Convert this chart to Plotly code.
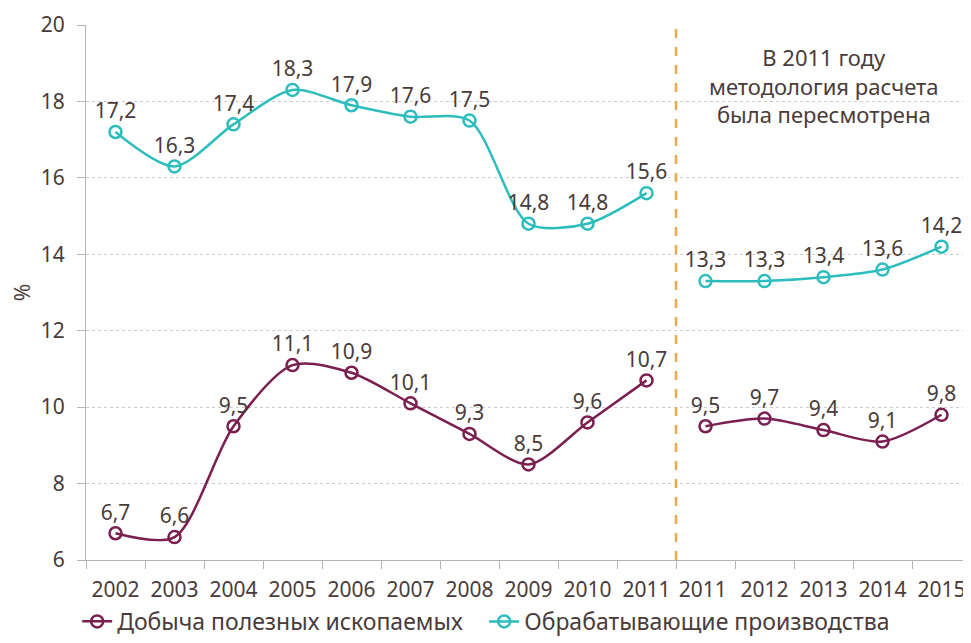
import plotly.graph_objects as go

# categories (second "2011" gets a trailing space so the category axis keeps both)
years = ["2002", "2003", "2004", "2005", "2006", "2007", "2008", "2009", "2010", "2011",
         "2011 ", "2012", "2013", "2014", "2015"]

mining_old = [6.7, 6.6, 9.5, 11.1, 10.9, 10.1, 9.3, 8.5, 9.6, 10.7]
mining_new = [9.5, 9.7, 9.4, 9.1, 9.8]
manuf_old = [17.2, 16.3, 17.4, 18.3, 17.9, 17.6, 17.5, 14.8, 14.8, 15.6]
manuf_new = [13.3, 13.3, 13.4, 13.6, 14.2]

MINING = "#7a1f4f"
MANUF = "#2dbdbd"
TEXT = "#4a3b3b"
FONT = "Noto Sans"


def lab(vals):
    return [f"{v:.1f}".replace(".", ",") for v in vals]


fig = go.Figure()

series = [
    ("Добыча полезных ископаемых", MINING, mining_old, mining_new),
    ("Обрабатывающие производства", MANUF, manuf_old, manuf_new),
]
for name, color, old, new in series:
    for i, (xs, ys) in enumerate([(years[:10], old), (years[10:], new)]):
        fig.add_trace(go.Scatter(
            x=xs, y=ys, name=name, legendgroup=name, showlegend=(i == 0),
            mode="lines+markers+text",
            line=dict(color=color, width=2.5, shape="spline", smoothing=0.8),
            marker=dict(symbol="circle-open", size=12, color=color,
                        line=dict(width=2.5, color=color)),
            text=lab(ys), textposition="top center",
            textfont=dict(size=21, color=TEXT, family=FONT),
            cliponaxis=False,
        ))

# methodology break
fig.add_shape(type="line", xref="x", yref="paper", x0=9.5, x1=9.5, y0=0, y1=1,
              line=dict(color="#f0a94a", width=2.5, dash="dash"))

fig.add_annotation(x=12, y=18.42, xref="x", yref="y", showarrow=False,
                   text="В 2011 году<br>методология расчета<br>была пересмотрена",
                   font=dict(size=22, color=TEXT, family=FONT), align="center")

fig.update_xaxes(type="category", categoryorder="array", categoryarray=years,
                 range=[-0.5, 14.5], tickson="boundaries", ticks="outside",
                 ticklen=8, tickcolor="#b5b5b5", showline=True, linecolor="#b5b5b5",
                 linewidth=1, showgrid=False, tickangle=0, automargin=False,
                 ticklabelstandoff=11,
                 tickfont=dict(size=21, color=TEXT, family=FONT))
fig.update_yaxes(range=[6, 20], dtick=2, ticks="outside", ticklen=8,
                 tickcolor="#b5b5b5", showline=True, linecolor="#b5b5b5",
                 showgrid=True, gridcolor="#cccccc", griddash="dot", gridwidth=1,
                 zeroline=False, automargin=False, ticklabelstandoff=8,
                 title=dict(text="%", standoff=24,
                            font=dict(size=21, color=TEXT, family=FONT)),
                 tickfont=dict(size=21, color=TEXT, family=FONT))

# the page puts the figure 8px in from the top-left, so size it to fit the window
fig.update_layout(
    width=963, height=635,
    margin=dict(l=78, r=0, t=17, b=83),
    plot_bgcolor="white", paper_bgcolor="white",
    font=dict(family=FONT, color=TEXT),
    legend=dict(orientation="h", x=-0.01, xanchor="left", y=-0.155, yanchor="bottom",
                font=dict(size=23, color=TEXT, family=FONT),
                itemwidth=30, tracegroupgap=0,
                entrywidth=362, entrywidthmode="pixels"),
)

fig.write_html("out.html")
